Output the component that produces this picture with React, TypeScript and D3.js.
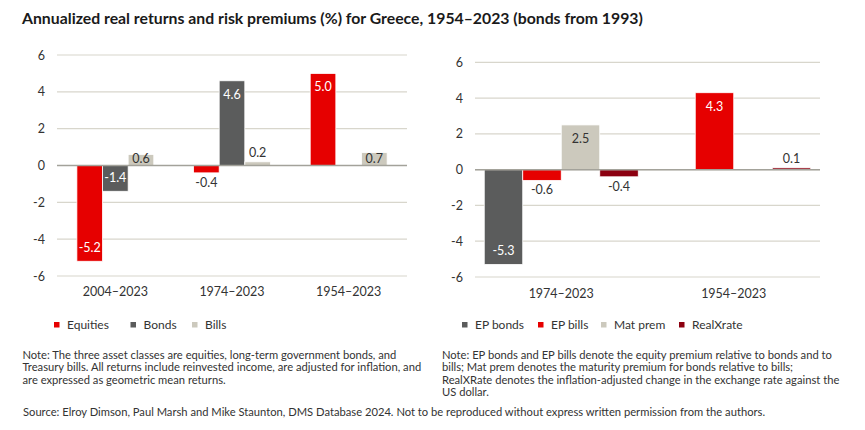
import * as d3 from 'd3';
import { useEffect, useRef } from 'react';

const titleText = 'Annualized real returns and risk premiums (%) for Greece, 1954–2023 (bonds from 1993)';

const leftCategories = ['2004–2023', '1974–2023', '1954–2023'];
const leftSeries = ['Equities', 'Bonds', 'Bills'];
const equities = [-5.2, -0.4, 5.0];
const bonds = [-1.4, 4.6, null];
const bills = [0.6, 0.2, 0.7];

const rightCategories = ['1974–2023', '1954–2023'];
const rightSeries = ['EP bonds', 'EP bills', 'Mat prem', 'RealXrate'];
const epBonds = [-5.3, null];
const epBills = [-0.6, 4.3];
const matPrem = [2.5, null];
const realXrate = [-0.4, 0.1];

const yTicks = [-6, -4, -2, 0, 2, 4, 6];

const leftNote = [
  'Note: The three asset classes are equities, long-term government bonds, and',
  'Treasury bills. All returns include reinvested income, are adjusted for inflation, and',
  'are expressed as geometric mean returns.',
];
const rightNote = [
  'Note: EP bonds and EP bills denote the equity premium relative to bonds and to',
  'bills; Mat prem denotes the maturity premium for bonds relative to bills;',
  'RealXRate denotes the inflation-adjusted change in the exchange rate against the',
  'US dollar.',
];
const sourceText = 'Source: Elroy Dimson, Paul Marsh and Mike Staunton, DMS Database 2024. Not to be reproduced without express written permission from the authors.';

const RED = '#e60000';
const DARK = '#5b5c5c';
const LIGHT = '#ccc9bd';
const MAROON = '#8c0010';
const TEXT = '#333333';
const FONT = 'Lato, "Open Sans", sans-serif';

function drawPanel(svg, opts) {
  const { categories, series, values, colors, lightSeries, insideMin, x0, x1, yTop, yBottom, outerPad, tickX, catY, legendX, legendY } = opts;

  const y = d3.scaleLinear().domain([-6, 6]).range([yBottom, yTop]);
  const xCat = d3.scaleBand().domain(categories).range([x0, x1]).padding(0);
  const xBar = d3.scaleBand().domain(series).range([0, xCat.bandwidth()]).paddingInner(0).paddingOuter(outerPad);

  const g = svg.append('g');

  g.selectAll('line.grid')
    .data(yTicks)
    .enter()
    .append('line')
    .attr('x1', x0)
    .attr('x2', x1)
    .attr('y1', (d) => y(d))
    .attr('y2', (d) => y(d))
    .attr('stroke', '#d8d6cc')
    .attr('stroke-width', 1.2);

  g.selectAll('text.tick')
    .data(yTicks)
    .enter()
    .append('text')
    .attr('x', tickX)
    .attr('y', (d) => y(d))
    .attr('dy', '0.36em')
    .attr('text-anchor', 'end')
    .style('font-family', FONT)
    .style('font-size', '12.5px')
    .style('fill', TEXT)
    .text((d) => d3.format('d')(d).replace('−', '-'));

  const cells = [];
  series.forEach((s, si) => {
    categories.forEach((c, ci) => {
      const v = values[si][ci];
      if (v === null || v === undefined) return;
      cells.push({ s, si, c, v });
    });
  });

  g.selectAll('rect.bar')
    .data(cells)
    .enter()
    .append('rect')
    .attr('x', (d) => xCat(d.c) + xBar(d.s))
    .attr('y', (d) => y(Math.max(0, d.v)))
    .attr('width', xBar.bandwidth())
    .attr('height', (d) => Math.abs(y(d.v) - y(0)))
    .attr('fill', (d) => colors[d.si])
    .attr('stroke', '#ffffff')
    .attr('stroke-width', 0.8);

  // zero line on top of bars
  g.append('line')
    .attr('x1', x0)
    .attr('x2', x1)
    .attr('y1', y(0))
    .attr('y2', y(0))
    .attr('stroke', '#a3a29a')
    .attr('stroke-width', 1.5);

  g.selectAll('text.value')
    .data(cells)
    .enter()
    .append('text')
    .attr('x', (d) => xCat(d.c) + xBar(d.s) + xBar.bandwidth() / 2)
    .attr('y', (d) => {
      const a = Math.abs(d.v);
      const sign = d.v >= 0 ? 1 : -1;
      if (a >= 1) return y(d.v) + sign * 13.5;
      if (a >= insideMin) return (y(d.v) + y(0)) / 2 - 1;
      return y(d.v) - sign * 9.5;
    })
    .attr('dy', '0.36em')
    .attr('text-anchor', 'middle')
    .style('font-family', FONT)
    .style('font-size', '12.5px')
    .style('fill', (d) => {
      const a = Math.abs(d.v);
      if (a >= 1 && !lightSeries.includes(d.s)) return '#ffffff';
      return TEXT;
    })
    .text((d) => d3.format('.1f')(d.v).replace('−', '-'));

  g.selectAll('text.cat')
    .data(categories)
    .enter()
    .append('text')
    .attr('x', (d) => xCat(d) + xCat.bandwidth() / 2)
    .attr('y', catY)
    .attr('text-anchor', 'middle')
    .style('font-family', FONT)
    .style('font-size', '12.5px')
    .style('fill', TEXT)
    .text((d) => d);

  series.forEach((s, si) => {
    const lx = legendX[si];
    g.append('rect')
      .attr('x', lx)
      .attr('y', legendY - 7)
      .attr('width', 5.5)
      .attr('height', 5.5)
      .attr('fill', colors[si]);
    g.append('text')
      .attr('x', lx + 13)
      .attr('y', legendY)
      .style('font-family', FONT)
      .style('font-size', '12px')
      .style('fill', TEXT)
      .text(s);
  });
}

export default function App() {
  const ref = useRef(null);

  useEffect(() => {
    document.body.style.margin = '0';
    const svg = d3.select(ref.current);
    svg.selectAll('*').remove();

    svg.append('rect').attr('width', 865).attr('height', 430).attr('fill', '#ffffff');

    svg.append('text')
      .attr('x', 22)
      .attr('y', 24)
      .style('font-family', FONT)
      .style('font-weight', '700')
      .style('font-size', '15.8px')
      .style('fill', '#1a1a1a')
      .text(titleText);

    drawPanel(svg, {
      categories: leftCategories,
      series: leftSeries,
      values: [equities, bonds, bills],
      colors: [RED, DARK, LIGHT],
      lightSeries: ['Bills'],
      insideMin: 0.5,
      x0: 57,
      x1: 407,
      yTop: 55,
      yBottom: 276,
      outerPad: 0.775,
      tickX: 45,
      catY: 296,
      legendX: [54, 130.5, 192],
      legendY: 329,
    });

    drawPanel(svg, {
      categories: rightCategories,
      series: rightSeries,
      values: [epBonds, epBills, matPrem, realXrate],
      colors: [DARK, RED, LIGHT, MAROON],
      lightSeries: ['Mat prem'],
      insideMin: 1,
      x0: 475,
      x1: 820,
      yTop: 62.3,
      yBottom: 277,
      outerPad: 0.24,
      tickX: 463,
      catY: 298,
      legendX: [462, 538, 601, 679],
      legendY: 329,
    });

    const noteStyle = (sel) => sel
      .style('font-family', FONT)
      .style('font-size', '11.2px')
      .style('fill', TEXT);

    leftNote.forEach((line, i) => {
      svg.append('text').attr('x', 22.5).attr('y', 359 + i * 12.3).call(noteStyle).text(line);
    });
    rightNote.forEach((line, i) => {
      svg.append('text').attr('x', 442).attr('y', 359 + i * 12.3).call(noteStyle).text(line);
    });
    svg.append('text').attr('x', 23).attr('y', 416).call(noteStyle).text(sourceText);

    return () => {
      svg.selectAll('*').remove();
    };
  }, []);

  return <svg ref={ref} width={865} height={430} style={{ display: 'block' }} />;
}
